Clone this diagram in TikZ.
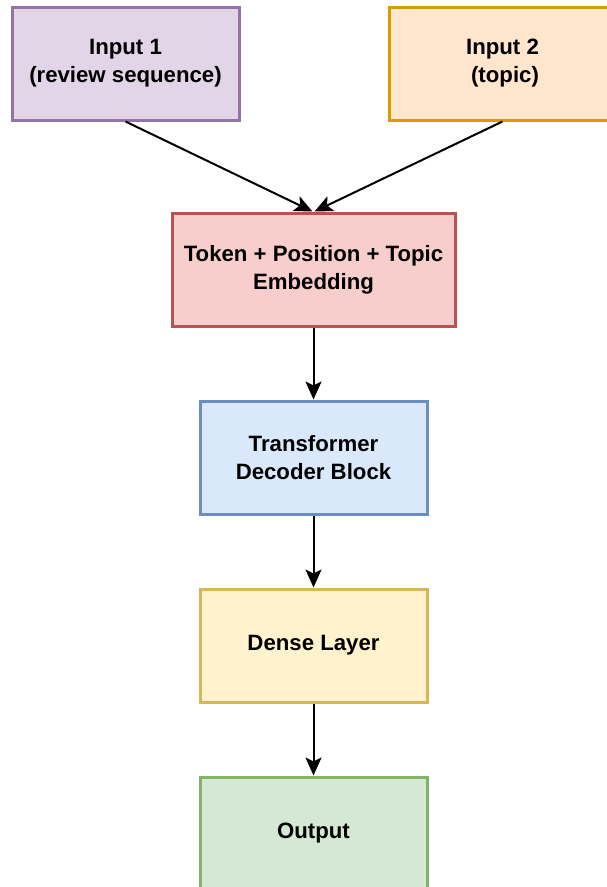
\documentclass[tikz,border=0pt]{standalone}
\usepackage{fontspec}
\setmainfont{Liberation Sans}
\usepackage{xcolor}
\usetikzlibrary{positioning, calc, arrows.meta}

\definecolor{purpleFill}{HTML}{E1D5E7}
\definecolor{purpleLine}{HTML}{9673A6}
\definecolor{orangeFill}{HTML}{FFE6CC}
\definecolor{orangeLine}{HTML}{D79B00}
\definecolor{redFill}{HTML}{F8CECC}
\definecolor{redLine}{HTML}{B85450}
\definecolor{blueFill}{HTML}{DAE8FC}
\definecolor{blueLine}{HTML}{6C8EBF}
\definecolor{yellowFill}{HTML}{FFF2CC}
\definecolor{yellowLine}{HTML}{D6B656}
\definecolor{greenFill}{HTML}{D5E8D4}
\definecolor{greenLine}{HTML}{82B366}

\begin{document}
\begin{tikzpicture}[x=1pt,y=-1pt,
    block/.style={draw, line width=3pt, rectangle, minimum width=227pt, minimum height=113pt,
        align=center, font=\fontsize{22.2}{28}\selectfont\bfseries, inner sep=0pt},
    link/.style={line width=2pt, -{Stealth[length=18pt,width=16pt,inset=4pt]}}]
            \useasboundingbox (0,0) rectangle (606,887);

            % Inputs
            \node[block, fill=purpleFill, draw=purpleLine] (in1) at (125.5,63.5) {Input 1\\(review sequence)};
            \node[block, fill=orangeFill, draw=orangeLine] (in2) at (502.5,63.5) {Input 2\\\hspace*{5pt}(topic)};

            % Layer stack
            \node[block, fill=redFill, draw=redLine, minimum width=283pt] (emb) at (313.5,269.5) {Token + Position + Topic\\Embedding};
            \node[block, fill=blueFill, draw=blueLine] (dec) at (313.5,457.5) {Transformer\\Decoder Block};
            \node[block, fill=yellowFill, draw=yellowLine] (dense) at (313.5,645.5) {Dense Layer};
            \node[block, fill=greenFill, draw=greenLine] (out) at (313.5,833.5) {Output};

            % Arrows
            \draw[link] (in1.south) -- ([xshift=-1pt]emb.north);
            \draw[link] (in2.south) -- ([xshift=1pt]emb.north);
            \draw[link] (emb) -- (dec);
            \draw[link] (dec) -- (dense);
            \draw[link] (dense) -- (out);
        \end{tikzpicture}
\end{document}
